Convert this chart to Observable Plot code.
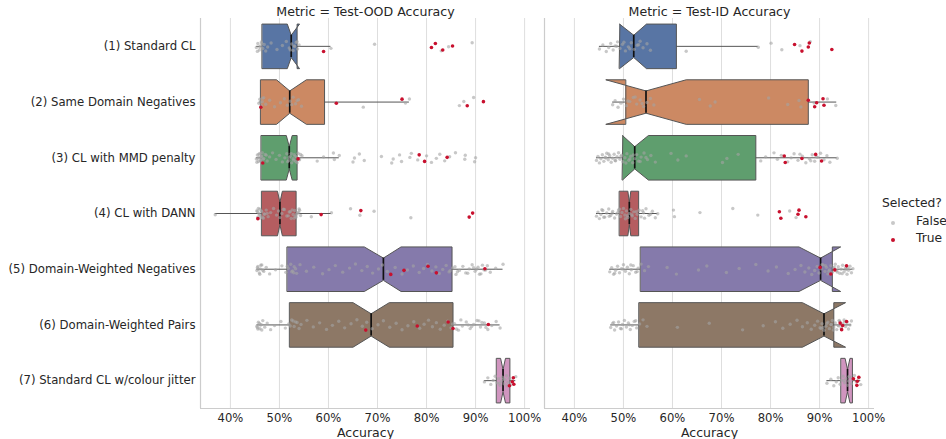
<!DOCTYPE html>
<html>
<head>
<meta charset="utf-8">
<script src="https://cdn.jsdelivr.net/npm/d3@7"></script>
<script src="https://cdn.jsdelivr.net/npm/@observablehq/plot@0.6"></script>
<style>
  html, body { margin: 0; padding: 0; background: #ffffff; }
  #wrap { position: relative; width: 946px; height: 439px; font-family: "DejaVu Sans", sans-serif; color: #262626; }
  .item { position: absolute; white-space: nowrap; }
  .dot { position: absolute; width: 4px; height: 4px; border-radius: 50%; }
</style>
</head>
<body>
<div id="wrap"></div>
<script>
// ---------- data ----------
const metrics = ["Test-OOD Accuracy", "Test-ID Accuracy"];
const methods = [
  "(1) Standard CL",
  "(2) Same Domain Negatives",
  "(3) CL with MMD penalty",
  "(4) CL with DANN",
  "(5) Domain-Weighted Negatives",
  "(6) Domain-Weighted Pairs",
  "(7) Standard CL w/colour jitter"
];
const xTicks = [40, 50, 60, 70, 80, 90, 100];
const xDomain = [33.9, 101.2];
const palette = ["#5875a4", "#cc8963", "#5f9e6e", "#b55d60", "#857aab", "#8d7866", "#d095bf"];

// box statistics (percent), Test-OOD
const oodLo      = [45.3, 46.0, 45.3, 36.9, 45.4, 45.4, 91.8];
const oodQ1      = [46.5, 46.2, 46.3, 46.4, 51.6, 52.1, 94.3];
const oodNotchLo = [51.6, 49.4, 51.4, 49.6, 67.3, 65.0, 95.1];
const oodMed     = [52.4, 52.1, 52.0, 50.1, 71.2, 68.7, 95.6];
const oodNotchHi = [54.1, 55.5, 52.6, 50.6, 74.8, 72.4, 96.1];
const oodQ3      = [53.6, 59.2, 53.6, 53.4, 85.2, 85.4, 97.0];
const oodHi      = [60.5, 76.5, 62.2, 60.6, 95.6, 95.0, 98.2];

// box statistics (percent), Test-ID
const idLo      = [45.1, 47.8, 44.5, 44.5, 47.2, 47.4, 91.5];
const idQ1      = [49.2, 50.4, 49.8, 49.2, 53.5, 53.2, 94.4];
const idNotchLo = [49.2, 46.4, 49.8, 50.9, 85.8, 86.5, 95.2];
const idMed     = [52.1, 54.6, 52.3, 51.2, 90.2, 90.9, 95.7];
const idNotchHi = [54.7, 62.8, 55.1, 51.5, 94.3, 95.3, 96.2];
const idQ3      = [60.8, 87.7, 77.0, 53.1, 92.6, 92.9, 96.7];
const idHi      = [77.5, 93.5, 93.6, 57.0, 96.8, 96.5, 98.4];

// individual runs, Test-OOD
const oodFalse = [
  [45.3, 45.6, 45.9, 46.1, 46.3, 46.6, 46.9, 47.2, 47.6, 48.3, 49.5, 50.6, 51.4, 52.0, 52.5, 52.8, 53.1, 53.4, 53.7, 54.0, 45.5, 46.0, 46.4, 52.2, 53.0, 53.6, 60.5, 69.4, 83.0, 84.5, 89.3],
  [45.8, 46.0, 46.3, 46.5, 46.8, 47.2, 48.0, 49.0, 50.2, 51.0, 51.6, 52.2, 52.8, 53.3, 53.9, 54.5, 46.1, 46.6, 52.5, 53.6, 67.1, 75.7, 76.5, 86.7, 87.6, 89.6],
  [45.3, 45.5, 45.7, 45.9, 46.0, 46.2, 46.4, 46.6, 46.8, 47.1, 47.5, 48.0, 48.6, 49.3, 50.0, 50.6, 51.1, 51.5, 51.9, 52.2, 52.5, 52.8, 53.0, 53.3, 53.5, 53.8, 54.1, 54.6,
   45.4, 45.6, 45.8, 46.1, 46.3, 46.5, 46.7, 47.3, 51.7, 52.0, 52.4, 52.9, 53.2, 53.6, 54.0, 54.3,
   57.7, 59.0, 61.0, 61.2, 62.2, 65.0, 65.3, 66.3, 67.3, 70.8, 72.9, 73.2, 74.5, 74.9, 76.6, 76.9, 78.2, 80.0, 81.0, 82.0, 82.7, 83.7, 84.7, 85.9, 87.8, 87.9, 89.8, 90.0],
  [36.9, 45.4, 45.6, 45.8, 46.0, 46.2, 46.4, 46.7, 47.0, 47.3, 47.7, 48.2, 48.8, 49.4, 49.8, 50.1, 50.5, 51.0, 51.5, 52.0, 52.4, 52.8, 53.1, 53.4, 53.7, 54.0, 54.3,
   45.5, 46.1, 46.9, 52.6, 53.2, 53.9, 45.7, 45.9, 46.3, 46.6, 47.5, 50.8, 51.8, 52.2, 53.0, 53.5, 54.1, 56.5, 60.6, 64.5, 66.4, 69.3, 76.8],
  [45.4, 45.6, 45.9, 46.1, 46.4, 46.8, 47.3, 48.0, 49.2, 50.5, 51.3, 51.8, 52.3, 52.7, 53.0, 53.5, 45.7, 46.2, 52.5, 45.5, 46.0, 46.6, 51.6, 52.9, 53.3,
   54.2, 55.5, 57.0, 58.8, 60.1, 61.4, 62.9, 64.3,
   65.5, 66.8, 67.9, 69.0, 70.2, 71.0, 72.0, 73.6, 75.0, 76.1, 77.3, 78.5, 79.4, 80.2, 81.1, 81.9, 82.6, 83.3, 84.0, 84.6, 85.3, 86.0, 86.7, 87.4, 88.0, 88.7,
   89.3, 89.9, 90.5, 91.1, 91.7, 92.4, 93.0, 94.1, 95.6, 84.8, 85.8, 88.4, 90.2, 91.4, 86.3, 89.6, 90.8, 92.0],
  [45.4, 45.7, 46.0, 46.3, 46.6, 47.0, 47.5, 48.2, 49.0, 50.3, 51.2, 51.9, 52.5, 53.0, 53.6, 45.6, 46.1, 52.8, 45.5, 45.9, 46.4, 52.2, 53.3, 54.0,
   54.4, 55.6, 56.9, 58.2, 59.6, 60.8, 62.1, 63.3,
   64.6, 65.8, 66.9, 67.8, 68.9, 70.1, 71.2, 72.5, 73.8, 75.0, 76.2, 77.4, 78.6, 79.5, 80.4, 81.2, 82.0, 82.8, 83.6, 84.3, 85.0, 85.7, 86.5, 87.3, 88.1, 88.9,
   89.6, 90.3, 91.0, 91.8, 92.5, 93.3, 94.2, 95.0, 85.3, 87.0, 89.2, 91.3, 86.1, 88.5, 90.7, 92.1],
  [91.8, 92.5, 93.1, 93.6, 94.0, 94.4, 94.7, 95.0, 95.3, 95.5, 95.8, 96.0, 96.3, 96.6, 96.9, 97.2, 97.5, 98.2, 94.9, 95.7, 96.4]
];
const oodTrue = [
  [59.0, 81.0, 81.8, 83.3, 85.3],
  [46.2, 61.6, 75.0, 88.3, 91.6],
  [46.6, 53.8, 78.5, 79.6, 84.2],
  [45.6, 58.5, 66.6, 88.7, 89.4],
  [72.7, 75.4, 80.3, 82.0, 91.9],
  [67.6, 78.1, 84.4, 85.4, 92.6],
  [96.9, 97.5, 97.7, 97.8]
];

// individual runs, Test-ID
const idFalse = [
  [45.1, 45.8, 46.5, 47.0, 47.4, 47.9, 48.3, 48.8, 49.3, 49.8, 50.4, 51.0, 51.6, 52.2, 52.8, 53.4, 54.0, 54.8, 55.5, 48.6, 50.1, 51.3, 53.1, 62.8, 77.5, 80.1, 82.3, 86.0, 88.1],
  [47.8, 48.3, 48.9, 49.5, 50.0, 50.6, 51.3, 52.0, 52.7, 53.4, 54.1, 54.8, 55.5, 56.2, 50.9, 52.4, 53.8, 65.5, 67.7, 68.7, 79.6, 83.5, 85.8, 86.2, 88.9, 91.6, 93.3],
  [44.5, 44.8, 45.1, 45.4, 45.7, 46.0, 46.3, 46.6, 46.9, 47.2, 47.5, 47.8, 48.1, 48.4, 48.7, 49.0, 49.3, 49.6, 49.9, 50.3, 50.7, 51.1, 51.5, 51.9, 52.3, 52.7,
   53.1, 53.6, 54.2, 54.9, 55.6, 56.5, 46.4, 47.0, 48.3, 49.5, 50.5, 51.3, 52.0, 53.4, 54.6,
   59.7, 61.1, 62.8, 70.2, 71.1, 73.4, 78.0, 79.0, 80.7, 81.4, 82.2, 83.5, 84.2, 84.8, 85.6, 86.5, 87.2, 87.9, 88.5, 89.0,
   89.6, 90.2, 90.9, 91.5, 92.1, 93.6, 86.0, 88.2, 89.3],
  [44.5, 44.8, 45.1, 45.4, 45.8, 46.2, 46.6, 47.0, 47.4, 47.8, 48.2, 48.6, 49.0, 49.4, 49.7, 50.0, 50.3, 50.6, 50.9, 51.2, 51.5, 51.8, 52.1, 52.4, 52.8, 53.2,
   53.6, 54.1, 54.6, 55.2, 55.9, 56.5, 57.0, 45.6, 47.1, 48.9, 50.4, 51.7, 53.9, 46.0, 47.7, 49.2, 50.8, 52.6, 54.3, 55.5,
   60.2, 60.4, 65.6, 72.3, 77.4, 83.9, 85.2],
  [47.2, 47.6, 48.0, 48.4, 48.8, 49.2, 49.6, 50.0, 50.4, 50.8, 51.2, 51.6, 52.0, 52.5, 53.0, 53.6, 54.3, 55.1, 48.2, 49.9, 51.5, 52.8,
   58.9, 60.8, 65.3, 67.0, 71.0, 73.6, 77.0, 79.5,
   81.2, 83.6, 85.0, 86.2, 87.0, 87.8, 88.4, 89.0, 89.5, 89.9, 90.3, 90.7, 91.1, 91.4, 91.7, 92.0, 92.3, 92.6, 92.9, 93.2, 93.5, 93.8, 94.1, 94.4, 94.7, 95.0,
   95.3, 95.6, 95.9, 96.2, 96.5, 96.8, 90.5, 91.9, 93.0, 94.6, 95.4, 91.2, 93.6, 95.8],
  [47.4, 47.8, 48.2, 48.6, 49.0, 49.4, 49.8, 50.2, 50.6, 51.0, 51.4, 51.8, 52.2, 52.7, 53.3, 54.0, 54.8, 48.0, 49.6, 51.2, 52.5,
   61.0, 67.5, 74.3, 78.5, 81.0, 82.5, 84.0, 85.4, 86.5,
   87.5, 88.3, 89.0, 89.6, 90.1, 90.5, 90.9, 91.3, 91.7, 92.0, 92.3, 92.6, 92.9, 93.2, 93.5, 93.8, 94.1, 94.4, 94.7, 95.0, 95.3, 95.6, 95.9, 96.2, 96.5,
   90.7, 91.5, 92.8, 93.9, 95.1, 90.3, 92.4, 94.0],
  [91.5, 92.3, 92.9, 93.4, 93.8, 94.2, 94.5, 94.8, 95.1, 95.4, 95.7, 95.9, 96.2, 96.5, 96.8, 97.1, 97.5, 98.0, 98.4, 95.0, 96.0]
];
const idTrue = [
  [84.9, 86.4, 87.7, 87.9, 92.5],
  [87.7, 89.0, 89.4, 90.7, 90.9],
  [82.8, 83.0, 86.4, 89.2, 90.4],
  [81.8, 82.1, 85.6, 85.8, 87.2],
  [90.1, 92.3, 93.1, 95.5],
  [94.2, 94.5, 94.7, 95.5],
  [96.9, 97.6, 97.7, 98.0]
];

// ---------- build tables ----------
const stats = {
  "Test-OOD Accuracy": [oodLo, oodQ1, oodNotchLo, oodMed, oodNotchHi, oodQ3, oodHi],
  "Test-ID Accuracy": [idLo, idQ1, idNotchLo, idMed, idNotchHi, idQ3, idHi]
};
const boxes = [];
for (const m of metrics) {
  const [lo, q1, nlo, med, nhi, q3, hi] = stats[m];
  methods.forEach((name, i) => {
    boxes.push({metric: m, i, lo: lo[i], q1: q1[i], nlo: nlo[i], med: med[i], nhi: nhi[i], q3: q3[i], hi: hi[i], color: palette[i]});
  });
}
const HW = 0.4, NW = 0.2;
const poly = [];
boxes.forEach((b, k) => {
  const c = b.i;
  const verts = [
    [b.q1, c - HW], [b.nlo, c - HW], [b.med, c - NW], [b.nhi, c - HW], [b.q3, c - HW],
    [b.q3, c + HW], [b.nhi, c + HW], [b.med, c + NW], [b.nlo, c + HW], [b.q1, c + HW]
  ];
  verts.forEach(([x, y]) => poly.push({metric: b.metric, key: k, x, y, color: b.color}));
});

const jit = (j, k) => ((((j + 1) * 0.6180339887 + k) % 1) - 0.5) * 0.19;
const grayPts = [], redPts = [];
const addPts = (m, arrs, out, k) => arrs.forEach((vals, i) => vals.forEach((v, j) => out.push({metric: m, v, y: i + jit(j, k)})));
addPts(metrics[0], oodFalse, grayPts, 0);
addPts(metrics[1], idFalse, grayPts, 0.13);
addPts(metrics[0], oodTrue, redPts, 0.37);
addPts(metrics[1], idTrue, redPts, 0.71);

const yDomain = [-0.5, methods.length - 0.5];
const ink = "#262626";
const edge = "#555555";

const chart = Plot.plot({
  width: 946,
  height: 439,
  marginLeft: 200,
  marginRight: 72,
  marginTop: 18,
  marginBottom: 31,
  style: {fontFamily: "DejaVu Sans, sans-serif", color: ink, background: "white", overflow: "visible"},
  fx: {domain: metrics, paddingInner: 0.0407, paddingOuter: 0, axis: null, label: null},
  x: {domain: xDomain},
  y: {domain: yDomain, reverse: true},
  color: {type: "identity"},
  marks: [
    Plot.gridX(xTicks, {stroke: "#dedede", strokeOpacity: 1, strokeWidth: 1}),
    Plot.ruleX([xDomain[0]], {stroke: "#cccccc", strokeWidth: 1.2}),
    Plot.ruleY([yDomain[1]], {stroke: "#cccccc", strokeWidth: 1.2}),
    Plot.axisX({ticks: xTicks, tickSize: 0, tickPadding: 5, tickFormat: d => d + "%", fontSize: 11.6, label: null}),
    Plot.axisY({ticks: methods.map((_, i) => i), tickSize: 0, tickPadding: 5, tickFormat: i => methods[i], fontSize: 11.7, label: null}),
    Plot.text(["Accuracy"], {frameAnchor: "bottom", dy: 24, lineAnchor: "middle", fontSize: 12.5, fill: ink}),
    Plot.text(metrics, {fx: d => d, text: d => `Metric = ${d}`, frameAnchor: "top", dy: -7, lineAnchor: "middle", fontSize: 12.6, fill: ink}),
    Plot.ruleY(boxes, {fx: "metric", y: "i", x1: "lo", x2: "q1", stroke: edge, strokeWidth: 1}),
    Plot.ruleY(boxes, {fx: "metric", y: "i", x1: "q3", x2: "hi", stroke: edge, strokeWidth: 1}),
    Plot.line(poly, {fx: "metric", x: "x", y: "y", z: "key", fill: "color", stroke: edge, strokeWidth: 1, curve: "linear-closed"}),
    Plot.ruleX(boxes, {fx: "metric", x: "med", y1: d => d.i - NW, y2: d => d.i + NW, stroke: "#111111", strokeWidth: 1.7}),
    Plot.dot(grayPts, {fx: "metric", x: "v", y: "y", r: 1.7, fill: "#a4a4a4", fillOpacity: 0.6, stroke: "none"}),
    Plot.dot(redPts, {fx: "metric", x: "v", y: "y", r: 1.8, fill: "#c8102e", stroke: "none"})
  ]
});

const wrap = document.getElementById("wrap");
wrap.appendChild(chart);

const legend = document.createElement("div");
legend.innerHTML = `
  <div class="item" style="left:882px; top:196px; font-size:12.3px;">Selected?</div>
  <div class="dot" style="left:891px; top:221px; background:#c8c8c8;"></div>
  <div class="item" style="left:916px; top:214px; font-size:12.3px;">False</div>
  <div class="dot" style="left:891px; top:238px; background:#c8102e;"></div>
  <div class="item" style="left:916px; top:231px; font-size:12.3px;">True</div>`;
wrap.appendChild(legend);
</script>
</body>
</html>
